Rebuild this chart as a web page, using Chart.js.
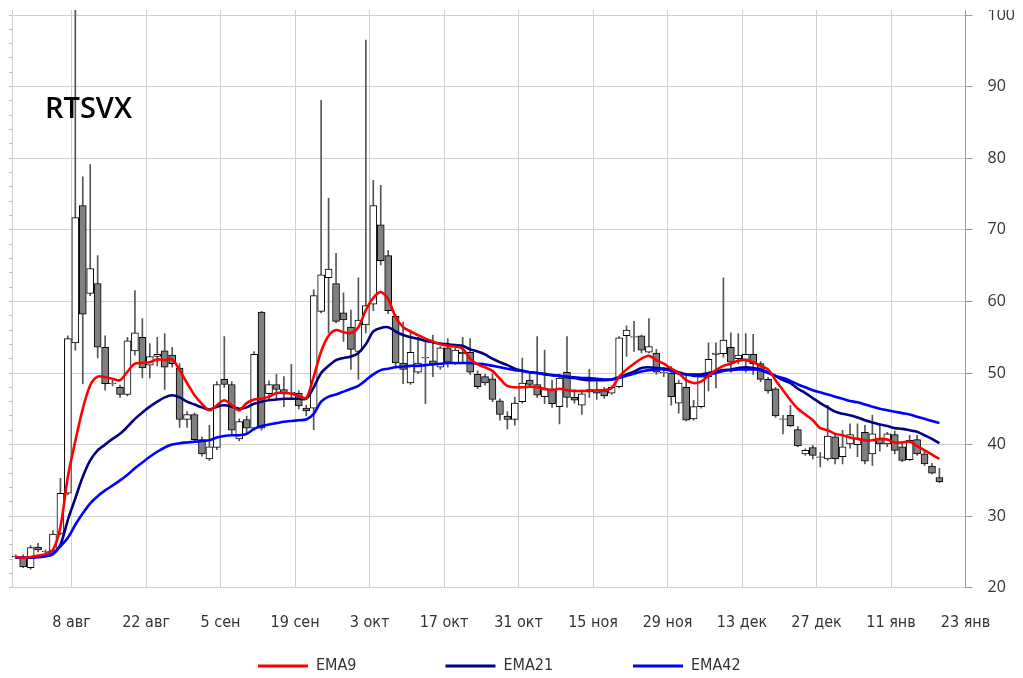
<!DOCTYPE html>
<html>
<head>
<meta charset="utf-8">
<script src="https://cdn.jsdelivr.net/npm/chart.js@4.4.0/dist/chart.umd.min.js"></script>
<style>
  html, body { margin: 0; padding: 0; background: #fff; overflow: hidden; }
  #wrap { position: absolute; left: 0; top: 10px; width: 1023px; height: 668px; }
</style>
</head>
<body>
<div id="wrap"><canvas id="chart"></canvas></div>
<script>
// RTSVX, дневные свечи (конец июля 2022 - январь 2023)
const opens = [24.4, 24.1, 22.8, 25.7, 25.1, 25.2, 27.6, 33.2, 54.2, 73.4,
  61.1, 62.5, 53.6, 48.6, 48.0, 47.0, 53.1, 55.0, 51.1, 52.3,
  53.1, 52.5, 50.7, 43.5, 44.2, 40.7, 38.0, 39.6, 49.1, 48.4,
  40.8, 43.5, 42.3, 58.5, 47.1, 48.4, 47.7, 47.3, 47.2, 45.1,
  45.1, 58.6, 63.3, 62.5, 58.4, 56.4, 53.0, 56.7, 59.6, 70.7,
  66.4, 57.9, 51.4, 48.6, 50.1, 52.2, 51.7, 50.8, 53.5, 51.4,
  52.9, 52.9, 49.8, 49.5, 49.2, 46.1, 44.0, 43.5, 46.0, 49.0,
  48.4, 46.7, 47.8, 45.3, 50.1, 46.6, 45.5, 47.4, 47.6, 47.5,
  47.2, 48.1, 55.2, 55.1, 55.2, 52.9, 52.8, 50.1, 50.0, 45.8,
  48.0, 43.6, 45.3, 49.5, 52.8, 52.7, 53.6, 52.0, 51.9, 52.6,
  51.3, 49.1, 47.8, 43.6, 44.1, 42.1, 38.7, 39.6, 38.3, 38.0,
  41.1, 38.3, 40.1, 40.0, 41.7, 38.7, 40.8, 40.1, 41.4, 39.7,
  37.9, 40.7, 38.7, 37.0, 35.4];
const highs = [24.6, 24.6, 25.9, 26.2, 25.3, 28.0, 35.3, 55.2, 102, 77.4,
  79.1, 66.4, 55.2, 49.0, 48.3, 55.0, 61.5, 57.6, 54.1, 55.0,
  55.5, 53.6, 51.3, 44.6, 44.4, 41.1, 42.7, 48.8, 55.1, 48.8,
  43.6, 44.0, 53.0, 58.6, 48.9, 49.8, 49.5, 51.2, 47.5, 45.5,
  61.6, 88.1, 74.4, 66.7, 61.2, 58.8, 63.3, 96.5, 76.9, 76.2,
  67.1, 58.2, 57.1, 56.0, 55.0, 54.6, 55.3, 53.7, 54.8, 53.5,
  55.0, 54.8, 50.3, 49.8, 49.9, 46.4, 44.6, 46.6, 52.1, 49.9,
  55.1, 53.2, 49.0, 49.8, 55.1, 47.6, 47.3, 50.5, 48.8, 48.0,
  48.2, 55.1, 56.6, 57.2, 55.3, 57.6, 53.3, 50.8, 50.9, 49.0,
  50.0, 46.2, 49.8, 54.2, 54.2, 63.3, 55.6, 55.5, 55.5, 55.4,
  51.6, 49.4, 48.0, 44.1, 45.5, 42.5, 39.4, 39.9, 38.9, 45.5,
  41.4, 42.0, 42.9, 42.9, 42.7, 44.1, 42.7, 41.7, 41.9, 40.4,
  41.3, 41.3, 39.3, 37.4, 36.7];
const lows = [24.1, 22.8, 22.6, 25.0, 24.7, 25.0, 27.4, 33.0, 53.2, 48.5,
  60.8, 52.1, 47.6, 48.2, 46.6, 46.8, 52.5, 49.3, 49.3, 51.0,
  47.7, 50.8, 42.4, 42.4, 40.5, 38.4, 37.8, 39.3, 48.0, 41.5,
  40.5, 41.5, 42.0, 42.0, 46.3, 46.3, 45.3, 46.5, 45.0, 44.0,
  42.1, 58.4, 55.6, 57.0, 54.4, 50.5, 49.1, 55.6, 58.7, 65.1,
  58.3, 50.8, 48.5, 48.4, 49.9, 45.7, 49.5, 50.5, 50.8, 51.2,
  51.4, 49.8, 47.8, 48.3, 46.0, 43.4, 42.2, 42.7, 45.8, 48.0,
  46.6, 45.7, 45.2, 42.9, 45.2, 45.8, 44.2, 46.6, 46.3, 46.5,
  47.0, 47.9, 52.3, 53.0, 52.8, 52.8, 49.8, 49.5, 45.5, 44.4,
  43.3, 43.4, 45.1, 47.5, 47.9, 52.2, 50.1, 51.3, 50.1, 49.8,
  48.8, 47.2, 43.8, 41.5, 42.5, 39.7, 38.5, 38.0, 36.9, 37.8,
  37.3, 37.3, 39.5, 38.3, 37.3, 37.1, 39.1, 39.7, 38.7, 37.6,
  37.8, 38.5, 37.1, 35.9, 34.7];
const closes = [24.3, 22.9, 25.6, 25.3, 25.0, 27.5, 33.2, 54.8, 71.7, 58.2,
  64.6, 53.6, 48.5, 48.5, 47.0, 54.5, 55.6, 50.7, 52.3, 52.6,
  50.8, 51.3, 43.5, 44.2, 40.7, 38.7, 39.7, 48.4, 48.4, 42.0,
  43.2, 42.3, 52.6, 42.3, 48.4, 47.7, 47.2, 47.2, 45.4, 44.7,
  60.8, 63.7, 64.5, 57.2, 57.4, 53.3, 57.4, 59.4, 73.4, 65.7,
  58.7, 51.4, 50.5, 52.9, 51.4, 52.1, 51.2, 53.5, 51.5, 53.2,
  52.7, 50.1, 48.1, 48.6, 46.3, 44.2, 43.5, 45.8, 48.6, 48.4,
  46.9, 47.7, 45.7, 49.3, 46.6, 46.2, 47.1, 47.7, 47.2, 46.8,
  48.0, 54.9, 56.0, 55.0, 53.2, 53.7, 50.1, 50.0, 46.7, 48.6,
  43.4, 45.3, 49.5, 51.9, 52.6, 54.6, 51.5, 52.5, 52.6, 51.3,
  49.1, 47.5, 44.0, 43.5, 42.6, 39.8, 39.2, 38.5, 38.2, 41.2,
  38.0, 39.7, 41.4, 40.9, 37.7, 41.5, 40.1, 41.5, 39.2, 37.8,
  40.6, 38.7, 37.3, 36.0, 34.8];

// скользящие средние
const ema9 = [24.3, 24.2, 24.3, 24.5, 24.7, 25.3, 28.5, 35.5, 40.5, 45.0,
  48.3, 49.5, 49.4, 49.2, 49.0, 50.2, 51.3, 51.4, 51.5, 51.9,
  51.8, 51.9, 50.4, 48.6, 46.9, 45.7, 44.8, 45.5, 46.2, 45.5,
  44.8, 45.8, 46.3, 46.4, 46.7, 47.2, 47.2, 47.1, 46.8, 46.5,
  49.5, 53.0, 55.2, 56.0, 55.7, 55.6, 56.4, 58.8, 60.5, 61.3,
  60.3, 57.8, 56.4, 55.8, 55.3, 54.8, 54.4, 54.0, 53.8, 53.7,
  53.4, 52.0, 51.2, 50.8, 50.3, 49.2, 48.2, 48.0, 48.0, 48.1,
  48.0, 47.8, 47.6, 47.8, 47.6, 47.5, 47.5, 47.5, 47.6, 47.6,
  47.9, 49.5, 50.5, 51.3, 52.0, 52.4, 51.8, 51.3, 50.6, 50.0,
  49.0, 48.6, 48.8, 49.6, 50.4, 51.0, 51.3, 51.7, 51.8, 51.5,
  51.0, 50.5, 49.0, 47.6, 46.2, 45.0, 44.2, 43.4, 42.3, 42.0,
  41.5, 41.3, 41.0, 40.8, 40.6, 40.6, 40.8, 40.7, 40.3, 40.3,
  40.4, 39.8, 39.2, 38.6, 38.0];
const ema21 = [24.2, 24.2, 24.2, 24.3, 24.4, 24.7, 26.0, 29.5, 32.5, 35.5,
  37.8, 39.2, 40.0, 40.8, 41.5, 42.5, 43.6, 44.5, 45.3, 46.0,
  46.6, 46.9, 46.6, 46.0, 45.6, 45.2, 44.9, 45.3, 45.5, 45.3,
  45.0, 45.2, 45.7, 46.0, 46.2, 46.3, 46.4, 46.4, 46.4, 46.4,
  48.0, 50.0, 51.0, 51.8, 52.1, 52.3, 52.8, 54.0, 55.8, 56.3,
  56.4, 55.8, 55.3, 55.0, 54.8, 54.5, 54.3, 54.1, 54.0, 53.9,
  53.8, 53.3, 53.0, 52.6, 52.0, 51.5, 51.1, 50.6, 50.3, 50.1,
  50.0, 49.9, 49.7, 49.6, 49.4, 49.3, 49.1, 49.0, 49.0, 49.0,
  49.1, 49.4, 49.8, 50.2, 50.7, 50.8, 50.7, 50.6, 50.5, 50.1,
  49.8, 49.8, 49.8, 50.0, 50.2, 50.4, 50.5, 50.7, 50.8, 50.7,
  50.5, 50.1, 49.6, 49.0, 48.6, 47.8, 47.2, 46.5, 45.8, 45.2,
  44.6, 44.3, 44.1, 43.8, 43.4, 43.1, 42.8, 42.6, 42.3, 42.2,
  42.0, 41.8, 41.3, 40.8, 40.2];
const ema42 = [24.2, 24.2, 24.2, 24.3, 24.4, 24.8, 25.8, 27.0, 28.8, 30.4,
  31.8, 32.8, 33.6, 34.3, 35.0, 35.8, 36.7, 37.5, 38.3, 39.0,
  39.6, 40.0, 40.2, 40.3, 40.4, 40.5, 40.6, 41.0, 41.2, 41.3,
  41.3, 41.5, 42.2, 42.6, 42.8, 43.0, 43.2, 43.3, 43.4, 43.5,
  44.3, 46.0, 46.7, 47.0, 47.4, 47.8, 48.2, 49.0, 49.8, 50.4,
  50.6, 50.8, 50.9, 51.0, 51.0, 51.1, 51.2, 51.3, 51.4, 51.4,
  51.4, 51.4, 51.3, 51.2, 51.0, 50.8, 50.6, 50.4, 50.3, 50.1,
  50.0, 49.8, 49.7, 49.6, 49.5, 49.4, 49.3, 49.3, 49.2, 49.1,
  49.1, 49.3, 49.6, 49.9, 50.2, 50.4, 50.5, 50.5, 50.3, 49.9,
  49.8, 49.6, 49.6, 49.8, 50.0, 50.3, 50.4, 50.5, 50.5, 50.5,
  50.4, 50.0, 49.6, 49.3, 48.9, 48.4, 48.0, 47.6, 47.3, 47.0,
  46.7, 46.4, 46.1, 45.9, 45.6, 45.3, 45.0, 44.8, 44.6, 44.4,
  44.2, 43.9, 43.6, 43.3, 43.0];

// подписи оси X (каждые 10 торговых дней, первая - 8-я свеча)
const dateLabels = ['8 авг', '22 авг', '5 сен', '19 сен', '3 окт', '17 окт', '31 окт',
  '15 ноя', '29 ноя', '13 дек', '27 дек', '11 янв', '23 янв'];
const yTicks = [20, 30, 40, 50, 60, 70, 80, 90, 100];

const narrowFont = '"Liberation Sans Narrow", "DejaVu Sans Condensed", sans-serif';
const toPoints = arr => arr.map((v, i) => ({ x: i, y: v }));

// заголовок и легенда рисуются поверх
const overlay = {
    id: 'overlay',
    afterDraw(chart) {
        const c = chart.ctx;
        c.save();
        c.fillStyle = '#000';
        c.font = '600 29px "Open Sans"';
        c.textBaseline = 'alphabetic';
        c.fillText('RTSVX', 45, 108);

        c.font = '16px ' + narrowFont;
        c.textBaseline = 'middle';
        const lines = chart.data.datasets.filter(d => d.type === 'line');
        lines.forEach((d, k) => {
            const x0 = 258 + k * 187.5, y0 = 656;
            c.fillStyle = d.borderColor;
            c.fillRect(x0, y0 - 1.5, 50, 3);
            c.fillStyle = '#333';
            c.fillText(d.label, x0 + 58, y0);
        });
        c.restore();
    }
};

const ctx = document.getElementById('chart').getContext('2d');
const chart = new Chart(ctx, {
    type: 'bar',
    data: {
        datasets: [
            { type: 'line', label: 'EMA9', data: toPoints(ema9), borderColor: '#ff0000',
              borderWidth: 2.6, pointRadius: 0, tension: 0.3, order: 1 },
            { type: 'line', label: 'EMA21', data: toPoints(ema21), borderColor: '#000080',
              borderWidth: 2.6, pointRadius: 0, tension: 0.3, order: 1.4 },
            { type: 'line', label: 'EMA42', data: toPoints(ema42), borderColor: '#0000ff',
              borderWidth: 2.6, pointRadius: 0, tension: 0.3, order: 1.2 },
            { type: 'bar', label: 'body', data: opens.map((o, i) => ({ x: i, y: [o, closes[i]] })),
              backgroundColor: closes.map((c, i) => c >= opens[i] ? '#ffffff' : '#808080'),
              borderColor: '#000', borderWidth: 1, borderSkipped: false,
              barThickness: 7, grouped: false, order: 2 },
            { type: 'bar', label: 'wick', data: lows.map((l, i) => ({ x: i, y: [l, highs[i]] })),
              backgroundColor: '#555', borderWidth: 0, barThickness: 1, grouped: false, order: 3 }
        ]
    },
    options: {
        responsive: true,
        maintainAspectRatio: false,
        animation: false,
        layout: { padding: 0 },
        plugins: { legend: { display: false }, tooltip: { enabled: false } },
        scales: {
            x: {
                type: 'linear', min: -0.5, max: 127.5, offset: false,
                afterBuildTicks: s => { s.ticks = dateLabels.map((_, k) => ({ value: 7.5 + 10 * k })); },
                ticks: { callback: (v, k) => dateLabels[k], autoSkip: false, maxRotation: 0,
                         padding: 25, color: '#333', font: { family: narrowFont, size: 16 } },
                grid: { color: '#cfcfcf', drawTicks: false, offset: false },
                border: { color: '#cfcfcf' },
                afterFit: s => { s.height = 90.2; s.paddingLeft = 0; s.paddingRight = 0; }
            },
            y: {
                position: 'right', min: 20, max: 100.7,
                afterBuildTicks: s => { s.ticks = yTicks.map(v => ({ value: v })); },
                ticks: { padding: 15, color: '#333', font: { family: '"Open Sans"', size: 16 } },
                grid: { color: '#cfcfcf', tickColor: '#999', tickLength: 7 },
                border: { color: '#999' },
                afterFit: s => { s.width = 57.5; s.paddingTop = 0; s.paddingBottom = 0; }
            },
            yl: {
                position: 'left', min: 20, max: 100.7,
                afterBuildTicks: s => {
                    const t = [];
                    for (let v = 20; v <= 100; v += 2) t.push({ value: v });
                    s.ticks = t;
                },
                ticks: { display: false },
                grid: { drawOnChartArea: false, tickLength: 3, color: '#bbb' },
                border: { color: '#cfcfcf' },
                afterFit: s => { s.width = 12; s.paddingTop = 0; s.paddingBottom = 0; }
            }
        }
    },
    plugins: [overlay]
});
</script>
</body>
</html>
